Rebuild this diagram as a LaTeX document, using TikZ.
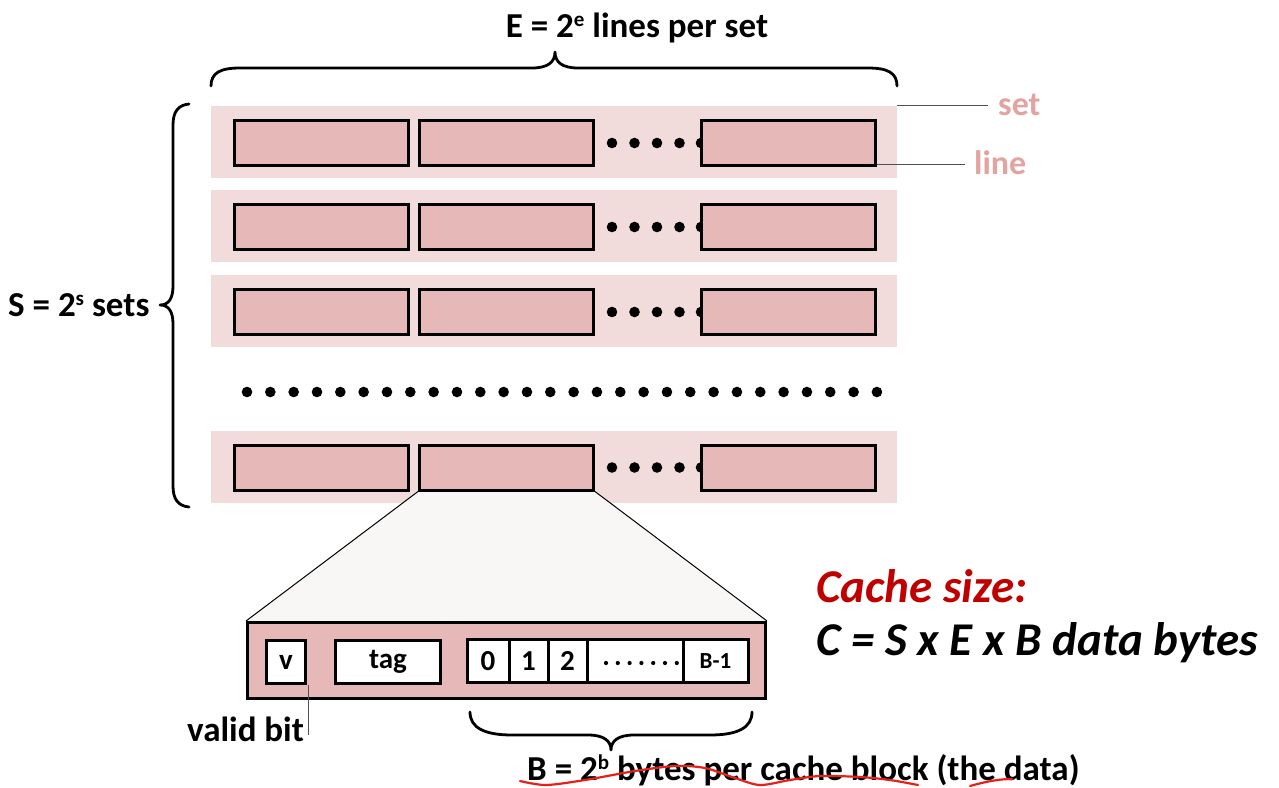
\documentclass[tikz,border=0pt]{standalone}
\usepackage{fontspec}
\setmainfont{Carlito}
\definecolor{setpink}{HTML}{F2DCDB}
\definecolor{linepink}{HTML}{E6B8B7}
\definecolor{labelpink}{HTML}{E3A3A1}
\definecolor{trapfill}{HTML}{F9F7F6}
\definecolor{darkred}{HTML}{C00000}
\definecolor{squig}{HTML}{E8201A}
\definecolor{leader}{HTML}{505050}
\newcommand{\mysup}[1]{\raisebox{0.62ex}{\fontsize{21}{21}\selectfont #1}}
\begin{document}
\begin{tikzpicture}[x=1pt,y=-1pt,
  setrow/.style={fill=setpink, minimum width=686pt, minimum height=72pt, inner sep=0pt},
  linebox/.style={draw, line width=3pt, fill=linepink, minimum width=174pt, minimum height=45pt, inner sep=0pt},
  cell/.style={draw, line width=3pt, fill=white, minimum height=43pt, inner sep=0pt, font=\fontsize{29}{32}\selectfont\bfseries},
  bigtxt/.style={font=\fontsize{35}{40}\selectfont\bfseries, inner sep=0pt},
  pinktxt/.style={font=\fontsize{34}{40}\selectfont\bfseries, text=labelpink, inner sep=0pt},
  bracepath/.style={line width=2.8pt, line cap=round, line join=round},
  leaderline/.style={draw=leader, line width=1.2pt},
  dotfill/.style={fill=black}
]
\useasboundingbox (0,0) rectangle (1279,787);

% set rows
\foreach \n/\y in {1/142, 2/226, 3/311, 5/466.5}{
  \node[setrow] (s\n) at (554,\y) {};
  \foreach \dx in {612,634.5,657,679.5,701}{
    \fill[dotfill] (\dx,\y+1) circle (5.3pt);
  }
  \node[linebox] (l\n a) at (321.5,\y+1) {};
  \node[linebox] (l\n b) at (506.5,\y+1) {};
  \node[linebox] (l\n c) at (788,\y+1) {};
}

% big dots row
\foreach \i in {0,...,27}{
  \fill[dotfill] (247+\i*23.33,392) circle (5.3pt);
}

% title and top brace
\node[bigtxt, anchor=base] (title) at (637,37) {E = 2\mysup{e} lines per set};
\draw[bracepath] (211,86) .. controls (211,73) and (220,68) .. (240,68) -- (532,68)
  .. controls (548,68) and (555,62) .. (555,52)
  .. controls (555,62) and (562,68) .. (578,68) -- (868,68)
  .. controls (888,68) and (897,73) .. (897,86);

% left brace and label
\draw[bracepath] (189,104) .. controls (178,105) and (173,112) .. (173,125) -- (173,286)
  .. controls (173,298) and (169,305) .. (160,305)
  .. controls (169,305) and (173,312) .. (173,324) -- (173,486)
  .. controls (173,499) and (178,506) .. (189,507);
\node[bigtxt, anchor=base west] (sl) at (8,316) {S = 2\mysup{s} sets};

% set / line labels
\node[pinktxt, anchor=base west] (setlbl) at (998,115) {set};
\node[pinktxt, anchor=base west] (linelbl) at (974,174) {line};
\draw[leaderline] (s1.north east) -- ([xshift=-10pt]setlbl.west |- s1.north east);
\coordinate (lineend) at ([yshift=2.5pt]l1c.south east);
\draw[leaderline] (lineend) -- ([xshift=-9pt]linelbl.west |- lineend);

% detail block
\node[draw, line width=3pt, fill=linepink, minimum width=518pt, minimum height=76pt, inner sep=0pt] (blk) at (506.5,660.5) {};
\fill[trapfill] (l5b.south west) -- (blk.north west) -- (blk.north east) -- (l5b.south east) -- cycle;
\draw[line width=1pt] (l5b.south west) -- (blk.north west);
\draw[line width=1pt] (l5b.south east) -- (blk.north east);
\node[draw, line width=3pt, fill=linepink, minimum width=518pt, minimum height=76pt, inner sep=0pt] at (blk) {};
\node[linebox] at (l5b) {};

\node[cell, minimum width=39pt] (v) at (286,662) {v};
\node[cell, minimum width=105pt] (tag) at (388,662) {tag};
\node[cell, minimum width=42pt] (c0) at (488,661) {0};
\node[cell, minimum width=39pt] (c1) at (528.5,661) {1};
\node[cell, minimum width=39pt] (c2) at (567.5,661) {2};
\node[cell, minimum width=96pt] (cd) at (635,661) {};
\node[cell, minimum width=65pt, font=\fontsize{23}{26}\selectfont\bfseries] (cb) at (715.5,661) {B-1};
\foreach \i in {0,...,6}{
  \fill (606+\i*11.8,663) circle (2.1pt);
}

% valid bit
\node[bigtxt, anchor=base west] (vb) at (187,741) {valid bit};
\coordinate (vbend) at ([yshift=-50pt]v.south east);
\draw[leaderline] ([xshift=1.5pt]v.south east) -- ([xshift=1.5pt]vbend);

% bottom brace and label
\draw[bracepath] (470,712) .. controls (470,728) and (485,735) .. (512,735) -- (588,735)
  .. controls (604,735) and (611,741) .. (611,750)
  .. controls (611,741) and (618,735) .. (634,735) -- (710,735)
  .. controls (737,735) and (752,728) .. (752,712);
\node[bigtxt, anchor=base west] (bl) at (527,780) {B = 2\mysup{b} bytes per cache block (the data)};
\draw[squig, line width=2.2pt, line cap=round] plot[smooth] coordinates {(520,781) (546,785) (585,780) (635,771) (675,766) (705,768) (735,778) (760,785) (790,780) (820,776) (860,777) (890,780) (918,785)};
\draw[squig, line width=2.2pt, line cap=round] (970,786) .. controls (988,781) and (1000,779) .. (1012,779);

% cache size
\node[font=\fontsize{47}{52}\selectfont\bfseries\itshape, text=darkred, anchor=base west, inner sep=0pt] (cs) at (816,602) {Cache size:};
\node[font=\fontsize{47}{52}\selectfont\bfseries\itshape, anchor=base west, inner sep=0pt] (cf) at (816,655) {C = S x E x B data bytes};
\end{tikzpicture}
\end{document}
